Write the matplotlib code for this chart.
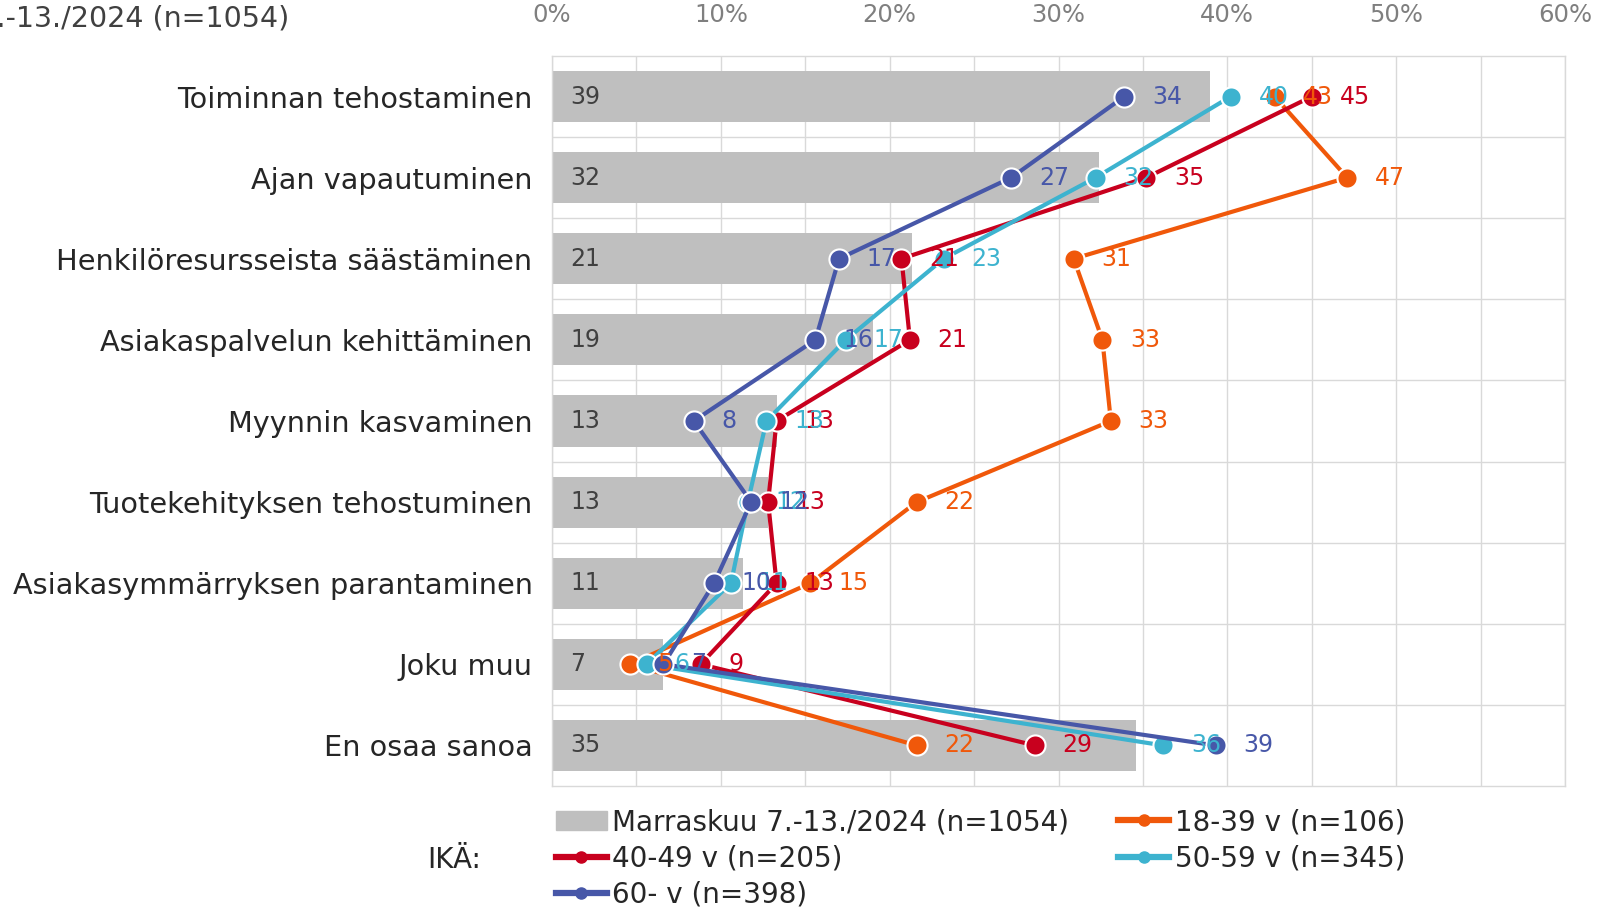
import matplotlib.pyplot as plt
import numpy as np
from matplotlib.patches import Patch
from matplotlib.lines import Line2D

# --- Data ---
categories = ['Toiminnan tehostaminen', 'Ajan vapautuminen',
              'Henkilöresursseista säästäminen', 'Asiakaspalvelun kehittäminen',
              'Myynnin kasvaminen', 'Tuotekehityksen tehostuminen',
              'Asiakasymmärryksen parantaminen', 'Joku muu', 'En osaa sanoa']
total = [39.0, 32.4, 21.3, 19.0, 13.3, 12.8, 11.3, 6.6, 34.6]
age_18_39 = [42.8, 47.1, 30.9, 32.6, 33.1, 21.6, 15.3, 4.6, 21.6]
age_40_49 = [45.0, 35.2, 20.7, 21.2, 13.3, 12.8, 13.3, 8.8, 28.6]
age_50_59 = [40.2, 32.2, 23.2, 17.4, 12.7, 11.6, 10.6, 5.6, 36.2]
age_60 = [33.9, 27.2, 17.0, 15.6, 8.4, 11.8, 9.6, 6.6, 39.3]

total_label = 'Marraskuu 7.-13./2024 (n=1054)'
series = [
    ('18-39 v (n=106)', age_18_39, '#F0580A'),
    ('40-49 v (n=205)', age_40_49, '#C8001E'),
    ('50-59 v (n=345)', age_50_59, '#3DB3CF'),
    ('60- v (n=398)', age_60, '#4757A8'),
]

y = np.arange(len(categories))

# --- Figure ---
fig = plt.figure(figsize=(16.01, 9.10), dpi=100)
ax = fig.add_axes([0.3448, 0.1363, 0.6327, 0.8022])

grid_c = '#D9D9D9'
ax.barh(y, total, height=0.63, color='#BFBFBF', zorder=2)
for yi, v in zip(y, total):
    ax.annotate(f'{v:.0f}', (0, yi), xytext=(13, 0), textcoords='offset points',
                ha='left', va='center', fontsize=17, color='#404040', zorder=3)

# lines + markers, labels drawn above all markers
z = 4
for name, vals, col in series:
    ax.plot(vals, y, color=col, lw=3.0, marker='o', ms=14.5,
            mec='white', mew=1.5, zorder=z, solid_capstyle='round')
    for yi, v in zip(y, vals):
        ax.annotate(f'{v:.0f}', (v, yi), xytext=(20, 0), textcoords='offset points',
                    ha='left', va='center', fontsize=17, color=col, zorder=20 + z)
    z += 1

# --- Axes formatting ---
ax.set_xlim(0, 60)
ax.set_ylim(len(categories) - 0.5, -0.5)
ax.xaxis.tick_top()
ax.set_xticks(np.arange(0, 61, 10))
ax.set_xticklabels([f'{t}%' for t in range(0, 61, 10)])
ax.set_xticks(np.arange(0, 61, 5), minor=True)
ax.set_yticks(y)
ax.set_yticklabels(categories)
ax.set_yticks(np.arange(0.5, len(categories) - 0.5, 1), minor=True)
ax.tick_params(axis='x', which='both', length=0, pad=21, labelsize=17.5, labelcolor='#7F7F7F')
ax.tick_params(axis='y', which='both', length=0, pad=14, labelsize=20.7, labelcolor='#262626')
ax.grid(axis='x', which='both', color=grid_c, lw=1.0, zorder=0)
ax.grid(axis='y', which='minor', color=grid_c, lw=1.0, zorder=0)
ax.grid(axis='y', which='major', visible=False)
for s in ax.spines.values():
    s.set_color(grid_c)
    s.set_linewidth(1.0)

# Cut-off title at top left
fig.text(289 / 1601, 1 - 18 / 910, total_label, ha='right', va='center',
         fontsize=20.5, color='#404040')

# --- Legend ---
handles = [Patch(color='#BFBFBF')]
labels = [total_label]
for name, vals, col in series:
    handles.append(Line2D([], [], color=col, lw=4.5, marker='o', ms=8, mec=col))
    labels.append(name)
order = [0, 2, 4, 1, 3]
fig.legend([handles[i] for i in order], [labels[i] for i in order],
           loc='upper left', bbox_to_anchor=(556 / 1601, 1 - 808 / 910), ncol=2,
           frameon=False, fontsize=20, handlelength=1.83, handletextpad=0.2,
           columnspacing=1.76, labelspacing=0.3, borderaxespad=0, borderpad=0,
           labelcolor='#262626', handleheight=0.7)
fig.text(427 / 1601, 1 - 860 / 910, 'IKÄ:', ha='left', va='center',
         fontsize=20, color='#262626')

fig.savefig('out.png', dpi=100)
